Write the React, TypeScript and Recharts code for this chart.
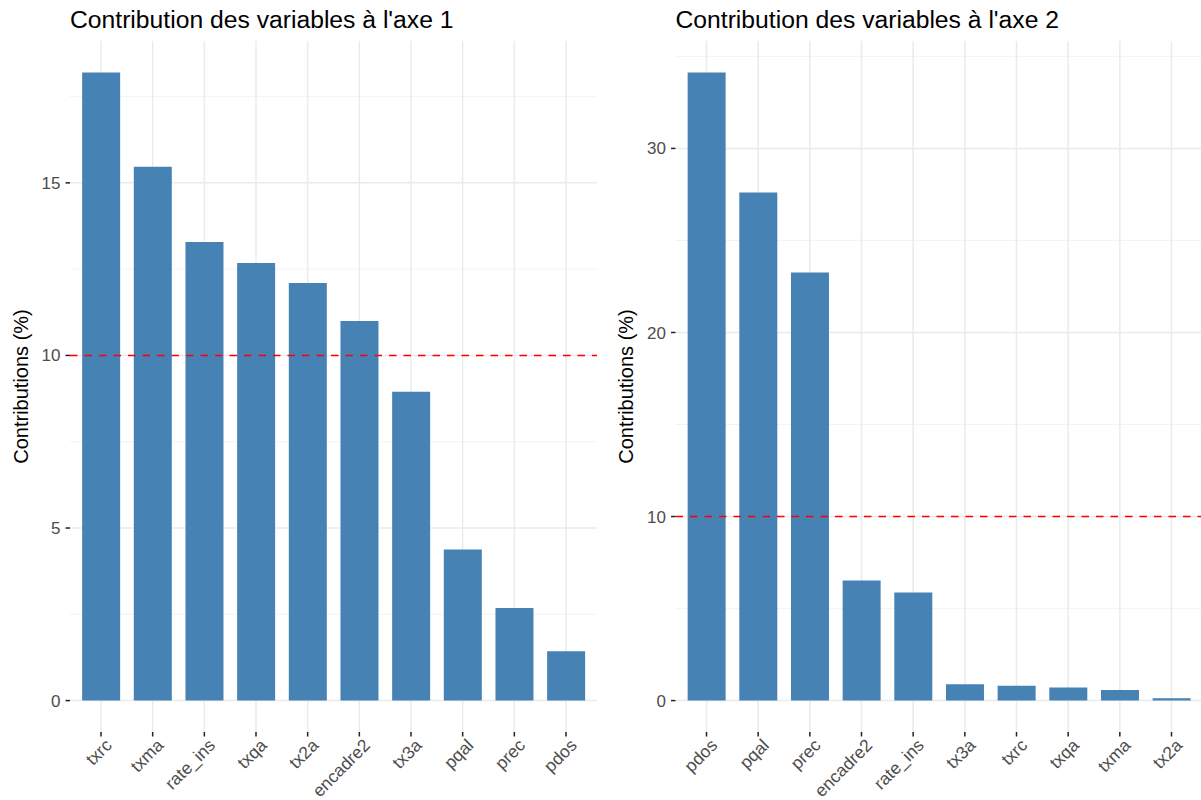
import { Bar, BarChart, CartesianGrid, ReferenceLine, XAxis, YAxis } from "recharts";

const axe1Vars = ["txrc", "txma", "rate_ins", "txqa", "tx2a", "encadre2", "tx3a", "pqal", "prec", "pdos"];
const axe1Contrib = [18.2, 15.47, 13.29, 12.68, 12.1, 11.0, 8.95, 4.38, 2.68, 1.43];
const axe1Ticks = [0, 5, 10, 15];
const axe1Minor = [2.5, 7.5, 12.5, 17.5];

const axe2Vars = ["pdos", "pqal", "prec", "encadre2", "rate_ins", "tx3a", "txrc", "txqa", "txma", "tx2a"];
const axe2Contrib = [34.13, 27.6, 23.26, 6.52, 5.87, 0.89, 0.8, 0.71, 0.58, 0.13];
const axe2Ticks = [0, 10, 20, 30];
const axe2Minor = [5, 15, 25, 35];

const threshold = 10;

const FONT = "'Liberation Sans', Arial, sans-serif";

function XTick({ x, y, payload }: any) {
  const ax = x + 3;
  return (
    <text
      x={ax}
      y={y}
      dy="0.72em"
      textAnchor="end"
      transform={`rotate(-45 ${ax} ${y})`}
      fontSize={17.5}
      fontFamily={FONT}
      fill="#4D4D4D"
    >
      {payload.value}
    </text>
  );
}

function ContribChart({
  title,
  vars,
  values,
  ticks,
  minor,
  left,
  width,
  axisWidth,
}: {
  title: string;
  vars: string[];
  values: number[];
  ticks: number[];
  minor: number[];
  left: number;
  width: number;
  axisWidth: number;
}) {
  const data = vars.map((name, i) => ({ name, value: values[i] }));
  const max = Math.max(...values);
  // ggplot default 5% expansion on the continuous axis
  const domain = [-0.05 * max, 1.05 * max];
  const band = (width - axisWidth) / 10.2;
  return (
    <div style={{ position: "absolute", left, top: 0, width, height: 800 }}>
      <div
        style={{
          position: "absolute",
          left: axisWidth,
          top: 8,
          fontFamily: FONT,
          fontSize: 24.7,
          lineHeight: "24px",
          color: "#000",
          whiteSpace: "nowrap",
        }}
      >
        {title}
      </div>
      <BarChart
        width={width}
        height={800}
        data={data}
        margin={{ top: 41, right: 0, bottom: 0, left: 0 }}
        barCategoryGap="13.5%"
      >
        <CartesianGrid horizontalValues={minor} vertical={false} stroke="#F0F0F0" strokeWidth={0.8} />
        <CartesianGrid horizontalValues={ticks} verticalValues={vars} stroke="#EBEBEB" strokeWidth={1.5} />
        <XAxis
          dataKey="name"
          type="category"
          height={68}
          padding={{ left: band * 0.1, right: band * 0.1 }}
          axisLine={false}
          tickLine={{ stroke: "#222", strokeWidth: 1.5 }}
          tickSize={4.5}
          tickMargin={1}
          tick={<XTick />}
          interval={0}
        />
        <YAxis
          type="number"
          domain={domain}
          ticks={ticks}
          width={axisWidth}
          axisLine={false}
          tickLine={{ stroke: "#222", strokeWidth: 1.5 }}
          tickSize={4.5}
          tickMargin={5}
          tick={{ fontSize: 17, fontFamily: FONT, fill: "#4D4D4D" }}
          allowDataOverflow
          label={{
            value: "Contributions (%)",
            angle: -90,
            position: "insideLeft",
            offset: axisWidth - 49.5,
            style: { textAnchor: "middle", fontSize: 20, fontFamily: FONT, fill: "#000" },
          }}
        />
        <Bar dataKey="value" fill="#4682B4" isAnimationActive={false} />
        <ReferenceLine y={threshold} stroke="#FF0000" strokeWidth={1.6} strokeDasharray="7.5 7" />
      </BarChart>
    </div>
  );
}

export default function App() {
  return (
    <div
      style={{
        position: "absolute",
        left: 0,
        top: 0,
        width: 1201,
        height: 800,
        overflow: "hidden",
        background: "#fff",
      }}
    >
      <ContribChart
        title="Contribution des variables à l'axe 1"
        vars={axe1Vars}
        values={axe1Contrib}
        ticks={axe1Ticks}
        minor={axe1Minor}
        left={0}
        width={597}
        axisWidth={70}
      />
      <ContribChart
        title="Contribution des variables à l'axe 2"
        vars={axe2Vars}
        values={axe2Contrib}
        ticks={axe2Ticks}
        minor={axe2Minor}
        left={600}
        width={602.5}
        axisWidth={75.5}
      />
    </div>
  );
}
